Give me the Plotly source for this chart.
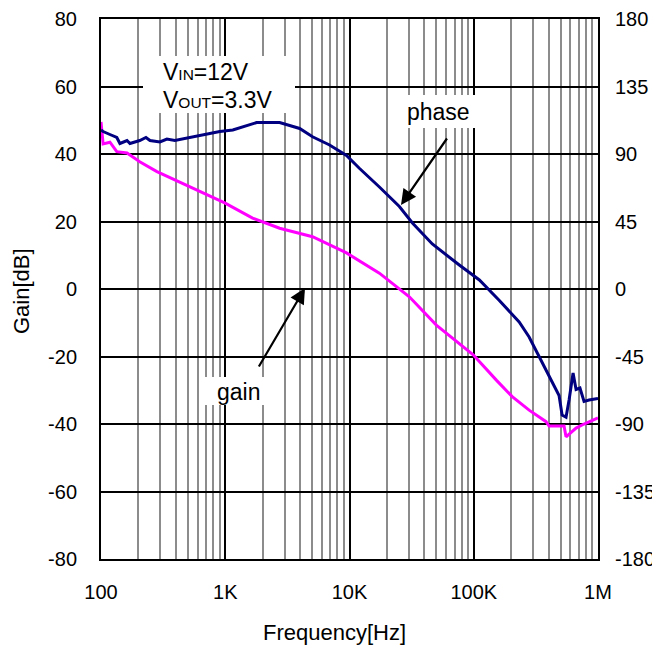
import plotly.graph_objects as go

# ---------------- data ----------------
gain_freq = [100, 104, 118, 134, 162, 205, 282, 518, 752, 990, 1660, 2740, 5040,
             9460, 17400, 30300, 50000, 99000, 152000, 204000, 279000, 382000,
             404000, 533000, 553000, 666000, 772000, 1000000]
gain_db = [49.5, 43, 43.5, 40.7, 40.3, 37.7, 34.8, 30.3, 27.3, 25.5, 21, 18, 15.5,
           10.7, 4.7, -2.3, -10.7, -19.5, -27, -31.9, -35.9, -39.3,
           -40.6, -40.6, -43.8, -41.2, -40, -38.2]

phase_freq = [100, 104, 118, 134, 142, 162, 171, 205, 230, 248, 298, 339, 393, 518,
              710, 904, 1150, 1490, 1790, 2740, 3970, 5040, 6910, 9460, 12000,
              17400, 25200, 32100, 46400, 76500, 111000, 160000, 232000, 279000,
              336000, 404000, 486000, 514000, 553000, 585000, 630000, 666000,
              716000, 772000, 847000, 1000000]
phase_deg = [106, 105, 103, 101, 97, 99, 97, 99, 101, 99, 98, 100, 99, 101,
             103, 105, 106, 109, 111, 111, 107, 101.5, 96, 89, 80.5,
             68, 55, 44, 30, 16, 6, -7.5, -22, -32,
             -45, -57, -71, -84, -85.5, -74, -56, -67,
             -66, -75, -74, -73]

x_tickvals = [100, 1000, 10000, 100000, 1000000]
x_ticktext = ["100", "1K", "10K", "100K", "1M"]
gain_ticks = [-80, -60, -40, -20, 0, 20, 40, 60, 80]
phase_ticks = [-180, -135, -90, -45, 0, 45, 90, 135, 180]

# ---------------- figure ----------------
FONT = "Liberation Sans, Arial, sans-serif"
OFF = 8                      # page body margin of the html page
W, H = 660 - OFF, 648 - OFF
L, T = 101 - OFF, 19 - OFF
R, B = W - (598 - OFF), H - (559 - OFF)
PW, PH = W - L - R, H - T - B


def px(x):
    """page pixel x (as in the reference) -> paper fraction"""
    return (x - OFF - L) / PW


def py(y):
    """page pixel y (as in the reference) -> paper fraction"""
    return (H - B - (y - OFF)) / PH


minor_vals = [d * 10 ** k for k in range(2, 6) for d in range(2, 10)]

fig = go.Figure()
fig.add_trace(go.Scatter(x=gain_freq, y=gain_db, mode="lines",
                         line=dict(color="#FF00FF", width=3), name="gain",
                         yaxis="y"))
fig.add_trace(go.Scatter(x=phase_freq, y=phase_deg, mode="lines",
                         line=dict(color="#000080", width=3), name="phase",
                         yaxis="y2"))

fig.update_layout(
    width=W, height=H,
    margin=dict(l=L, r=R, t=T, b=B, autoexpand=False),
    paper_bgcolor="white", plot_bgcolor="white",
    showlegend=False,
    font=dict(family=FONT, size=20, color="black"),
    xaxis=dict(
        type="log", range=[2, 6], automargin=False,
        tickvals=x_tickvals, ticktext=x_ticktext,
        showgrid=True, gridcolor="black", gridwidth=2,
        showline=True, linecolor="black", linewidth=2, mirror=True,
        ticks="", ticklabelstandoff=14,
        tickfont=dict(size=20),
        minor=dict(tickvals=minor_vals, showgrid=True,
                   gridcolor="#8c8c8c", gridwidth=2, ticks=""),
        zeroline=False,
    ),
    yaxis=dict(
        range=[-80, 80], tickvals=gain_ticks, automargin=False,
        ticktext=[str(v) for v in gain_ticks],
        showgrid=True, gridcolor="black", gridwidth=2,
        showline=True, linecolor="black", linewidth=2, mirror=True,
        ticks="", ticklabelstandoff=18, zeroline=False,
        tickfont=dict(size=20),
    ),
    yaxis2=dict(
        range=[-180, 180], tickvals=phase_ticks, automargin=False,
        ticktext=[str(v) for v in phase_ticks],
        overlaying="y", side="right", showgrid=False,
        ticks="", ticklabelstandoff=16, zeroline=False,
        tickfont=dict(size=20),
    ),
)

# white boxes behind labels (they do not touch the curves)
for x0, x1, y0, y1 in [(143, 295, 56, 113), (392, 490, 95, 128), (200, 275, 377, 405)]:
    fig.add_shape(type="rect", xref="paper", yref="paper",
                  x0=px(x0), x1=px(x1), y0=py(y1), y1=py(y0),
                  fillcolor="white", line=dict(width=0), layer="above")

ann = [
    dict(text="V<span style='font-size:15.5px'>IN</span>=12V", x=px(161), y=py(72),
         xanchor="left", yanchor="middle", size=23),
    dict(text="V<span style='font-size:15.5px'>OUT</span>=3.3V", x=px(161), y=py(100),
         xanchor="left", yanchor="middle", size=23),
    dict(text="phase", x=px(438), y=py(112), xanchor="center", yanchor="middle", size=23),
    dict(text="gain", x=px(238), y=py(392), xanchor="center", yanchor="middle", size=23),
    dict(text="Frequency[Hz]", x=px(334), y=py(632), xanchor="center", yanchor="middle",
         size=22),
    dict(text="Gain[dB]", x=px(21), y=py(291), xanchor="center", yanchor="middle",
         textangle=-90, size=22),
]
for a in ann:
    size = a.pop("size")
    fig.add_annotation(xref="paper", yref="paper", showarrow=False,
                       font=dict(family=FONT, size=size, color="black"), **a)

# arrows
for tip, tail in [((401, 205), (448, 137)), ((305, 288), (258, 368))]:
    fig.add_annotation(xref="paper", yref="paper", x=px(tip[0]), y=py(tip[1]),
                       ax=tail[0] - tip[0], ay=tail[1] - tip[1], text="",
                       showarrow=True, arrowhead=2, arrowsize=1.4,
                       arrowwidth=2.2, arrowcolor="black")

fig.write_html("out.html")
